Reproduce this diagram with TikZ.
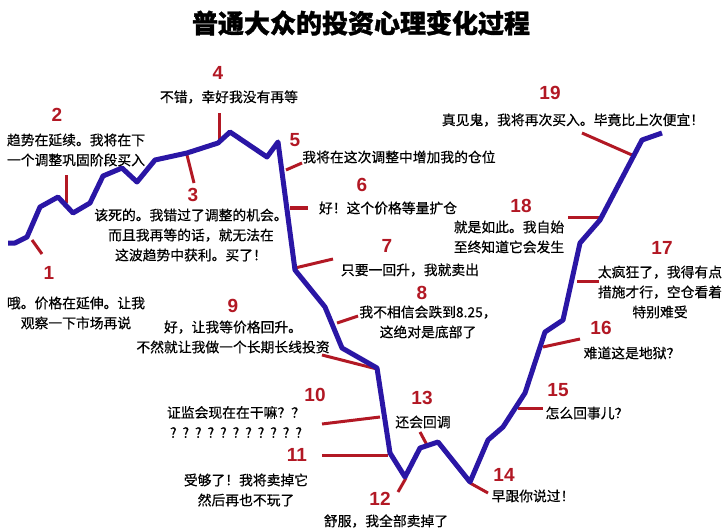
\documentclass[tikz,border=0pt]{standalone}
\usepackage{fontspec}
\setmainfont{Noto Sans CJK SC}
\newfontfamily\sayfont[FakeBold=0.5]{Noto Sans CJK SC}
\newfontfamily\titlefont[BoldFeatures={FakeBold=1.2}]{Noto Sans CJK SC}
\newfontfamily\numfont{Liberation Sans}
\definecolor{trendblue}{RGB}{42,22,165}
\definecolor{tickred}{RGB}{178,24,36}
\tikzset{
  trend/.style={draw=trendblue, line width=5pt, line join=round},
  tick/.style={draw=tickred, line width=3pt},
  num/.style={text=tickred, font=\numfont\bfseries\fontsize{19}{19}\selectfont, inner sep=0pt},
  say/.style={align=center, font=\sayfont\fontsize{13.8}{20}\selectfont, inner sep=0pt},
}

\begin{document}
\begin{tikzpicture}[x=1pt,y=-1pt]
\useasboundingbox (0,0) rectangle (726,532);
\node[font=\titlefont\bfseries\fontsize{26}{26}\selectfont] (title) at (361,23) {普通大众的投资心理变化过程};

% points of the price curve
\foreach \x/\y [count=\i] in {8/243,15/243,27/237,40/207,58/197,73/213,90/203,
  103/176,122/168,137/182,155/160,187/153,218/143,230/132,267/157,278/142,
  295/270,325/307,342/348,377/368,390/453,405/477,420/448,438/442,470/482,
  488/440,503/427,525/393,545/332,563/320,580/243,600/220,642/140,662/133}
  \coordinate (p\i) at (\x,\y);

% ticks from the curve to the comments
\foreach \ax/\ay/\bx/\by [count=\k] in {32/240/42/254,66/203/66/175,187/155/194/183,
  219/142/219/113,286/170/302/163,290/208/308/208,295/268/333/259,
  337/323/358/316,377/369/322/355,380/417/322/424,388/455/322/455,
  406/478/398/492,428/447/420/432,470/483/488/493,518/408/543/408,
  543/347/580/339,577/281/599/281,601/217/568/217,632/155/582/133}
  {
  \coordinate (ta\k) at (\ax,\ay);
  \coordinate (tb\k) at (\bx,\by);
  \draw[tick] (ta\k) -- (tb\k);
  }

\draw[trend] (p1) \foreach \i in {2,...,34} { -- (p\i) };

\foreach \n/\x/\y in {1/49/273,2/57/115,3/193/195,4/218/73,5/295/140,
  6/362/185,7/387/246,8/422/293,9/233/306,10/315/395,11/297/455,
  12/380/499,13/422/398,14/504/475,15/558/390,16/601/328,
  17/662/248,18/521/206,19/550/93}
  \node[num] (n\n) at (\x,\y) {\n};

\node[say] (s1) at (76,313) {哦。价格在延伸。让我\\观察一下市场再说};
\node[say] (s2) at (76,150) {趋势在延续。我将在下\\一个调整巩固阶段买入};
\node[say] (s3) at (191,235) {该死的。我错过了调整的机会。\\而且我再等的话，就无法在\\这波趋势中获利。买了！};
\node[say] (s4) at (229,97) {不错，幸好我没有再等};
\node[say] (s5) at (399,157) {我将在这次调整中增加我的仓位};
\node[say] (s6) at (388,208) {好！这个价格等量扩仓};
\node[say] (s7) at (410,270) {只要一回升，我就卖出};
\node[say] (s8) at (428,322) {我不相信会跌到8.25，\\这绝对是底部了};
\node[say] (s9) at (233,337) {好，让我等价格回升。\\不然就让我做一个长期长线投资};
\node[say] (s10) at (236,422) {证监会现在在干嘛？？\\?\hspace{6pt}?\hspace{6pt}?\hspace{6pt}?\hspace{6pt}?\hspace{6pt}?\hspace{6pt}?\hspace{6pt}?\hspace{6pt}?\hspace{6pt}?\hspace{6pt}?};
\node[say] (s11) at (246,490) {受够了！我将卖掉它\\然后再也不玩了};
\node[say] (s12) at (386,521) {舒服，我全部卖掉了};
\node[say] (s13) at (423,422) {还会回调};
\node[say] (s14) at (533,496) {早跟你说过！};
\node[say] (s15) at (587,413) {怎么回事儿？};
\node[say] (s16) at (632,353) {难道这是地狱？};
\node[say] (s17) at (660,292) {太疯狂了，我得有点\\措施才行，空仓看着\\特别难受};
\node[say] (s18) at (509,237) {就是如此。我自始\\至终知道它会发生};
\node[say] (s19) at (573,120) {真见鬼，我将再次买入。毕竟比上次便宜！};
\end{tikzpicture}
\end{document}
